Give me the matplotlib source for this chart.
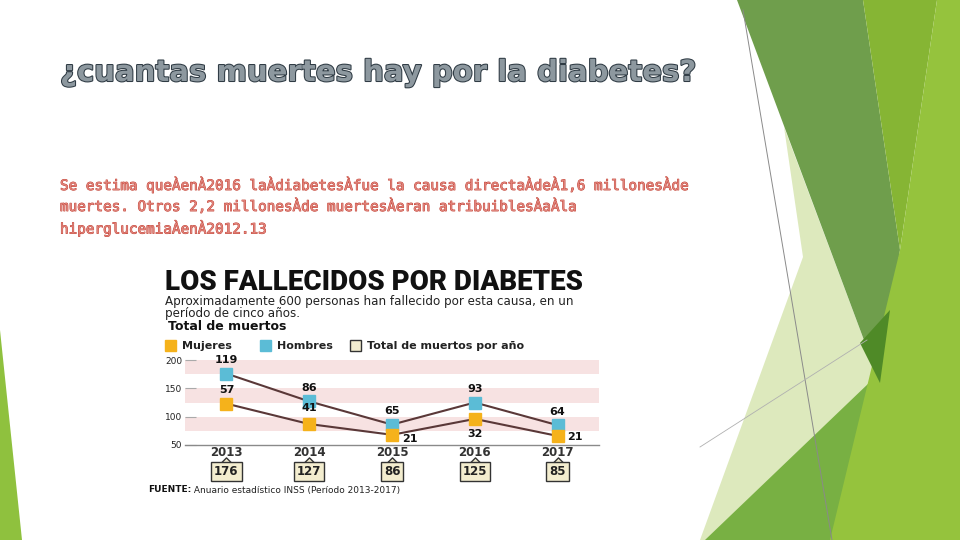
import matplotlib.pyplot as plt
import matplotlib.patheffects as pe
from matplotlib.patches import Polygon
from matplotlib.path import Path

# datos del grafico
anios = [2013, 2014, 2015, 2016, 2017]
mujeres = [57, 41, 21, 32, 21]
hombres = [119, 86, 65, 93, 64]
totales = [176, 127, 86, 125, 85]
# altura a la que aparecen los marcadores en el grafico original
mujeres_y = [123, 87, 68, 96, 66]
hombres_y = [176, 127, 86, 125, 85]
y_ticks = [50, 100, 150, 200]
franjas = [(75, 100), (125, 150), (175, 200)]

W, H = 960, 540
fig = plt.figure(figsize=(9.6, 5.4), dpi=100)
fig.patch.set_facecolor('white')

# fondo de la diapositiva (formas verdes)
bg = fig.add_axes([0, 0, 1, 1], zorder=0)
bg.set_xlim(0, W)
bg.set_ylim(H, 0)
bg.axis('off')

formas = [
    ([(784, 127), (803, 257), (700, 540), (960, 540), (880, 383)], '#dde9bd'),
    ([(705, 540), (917, 337), (960, 296), (960, 540)], '#78b043'),
    ([(737, 0), (863, 0), (900, 250), (880, 383)], '#6f9e4c'),
    ([(863, 0), (937, 0), (900, 250)], '#86b534'),
    ([(937, 0), (960, 0), (960, 540), (830, 540), (900, 250)], '#95c33d'),
    ([(860, 343), (890, 310), (880, 383)], '#4f8a27'),
    ([(0, 330), (22, 540), (0, 540)], '#8fc13e'),
]
for pts, col in formas:
    bg.add_patch(Polygon(pts, closed=True, facecolor=col, edgecolor='none'))
bg.plot([743, 832], [10, 540], color='#8a8a8a', lw=0.7)
bg.plot([700, 867], [447, 340], color='#b0b0b0', lw=0.6)

# titulo de la diapositiva
fig.text(60 / W, 1 - 73 / H, '¿cuantas muertes hay por la diabetes?',
         fontsize=21, fontweight='heavy', color='#8d989f', va='center', ha='left',
         path_effects=[pe.withStroke(linewidth=1.5, foreground='#2f3b44')])

texto = ('Se estima queÀenÀ2016 laÀdiabetesÀfue la causa directaÀdeÀ1,6 millonesÀde\n'
         'muertes. Otros 2,2 millonesÀde muertesÀeran atribuiblesÀaÀla\n'
         'hiperglucemiaÀenÀ2012.13')
fig.text(60 / W, 1 - 177 / H, texto, family='DejaVu Sans Mono', fontsize=10.3,
         color='#e0837b', va='top', ha='left', linespacing=1.5,
         path_effects=[pe.withStroke(linewidth=0.6, foreground='#c0392b')])

# cabecera de la infografia
fig.text(165 / W, 1 - 283 / H, 'LOS FALLECIDOS POR DIABETES', family='Roboto',
         fontsize=20, fontweight='black', color='#111111', va='center', ha='left')
fig.text(165 / W, 1 - 295 / H,
         'Aproximadamente 600 personas han fallecido por esta causa, en un\n'
         'período de cinco años.', fontsize=8.6, color='#222222', va='top', ha='left',
         linespacing=0.95)
fig.text(168 / W, 1 - 327 / H, 'Total de muertos', fontsize=9, fontweight='bold',
         color='#111111', va='center', ha='left')

# leyenda
leyenda = [(165, '#f5b21b', '#f5b21b', 'Mujeres'),
           (260, '#5bbcd6', '#5bbcd6', 'Hombres'),
           (350, '#f3edcf', '#333333', 'Total de muertos por año')]
for x0, fc, ec, lab in leyenda:
    bg.add_patch(plt.Rectangle((x0, 340), 11, 11, facecolor=fc, edgecolor=ec, lw=1))
    bg.text(x0 + 17, 346, lab, fontsize=8, fontweight='bold', color='#222222',
            va='center', ha='left')

# area del grafico
ax = fig.add_axes([185 / W, 1 - 445 / H, 414 / W, 85 / H], zorder=2)
ax.set_facecolor('none')
ax.set_xlim(2012.5, 2017.5)
ax.set_ylim(50, 200)
for a, b in franjas:
    ax.axhspan(a, b, color='#f7e2e2', zorder=0, lw=0)

ax.plot(anios, hombres_y, color='#5a3838', lw=1.5, zorder=2)
ax.plot(anios, mujeres_y, color='#5a3838', lw=1.5, zorder=2)
ax.plot(anios, hombres_y, ls='none', marker='s', ms=8, color='#5bbcd6', zorder=3)
ax.plot(anios, mujeres_y, ls='none', marker='s', ms=8, color='#f5b21b', zorder=3)

for x, y, v in zip(anios, hombres_y, hombres):
    ax.annotate(str(v), (x, y), xytext=(0, 6), textcoords='offset points',
                ha='center', va='bottom', fontsize=8, fontweight='bold',
                color='#111111', annotation_clip=False)

off_muj = [((0, 6), 'center', 'bottom'), ((0, 8), 'center', 'bottom'),
           ((7, -3), 'left', 'center'), ((0, -7), 'center', 'top'),
           ((7, -1), 'left', 'center')]
for (x, y, v), (off, ha, va) in zip(zip(anios, mujeres_y, mujeres), off_muj):
    ax.annotate(str(v), (x, y), xytext=off, textcoords='offset points',
                ha=ha, va=va, fontsize=8, fontweight='bold', color='#111111',
                annotation_clip=False)

ax.set_yticks(y_ticks)
ax.set_yticklabels([str(t) for t in y_ticks], fontsize=6.5, color='#222222')
ax.tick_params(axis='y', length=8, width=0.8, color='#aaaaaa', direction='in', pad=2)
ax.set_xticks(anios)
ax.set_xticklabels([str(a) for a in anios], fontsize=8.5, fontweight='bold',
                   color='#333333')
ax.tick_params(axis='x', length=0, pad=1)
for s in ['top', 'right', 'left']:
    ax.spines[s].set_visible(False)
ax.spines['bottom'].set_color('#8a8a8a')
ax.spines['bottom'].set_linewidth(1)

# cajas con el total por anio
flecha = Path([(-1, -0.4), (0, 0.6), (1, -0.4)])
tr = ax.get_xaxis_transform()
ax.plot(anios, [-0.2] * len(anios), ls='none', marker=flecha, ms=11,
        mfc='#f3edcf', mec='#333333', mew=1, transform=tr, clip_on=False, zorder=4)
for x, t in zip(anios, totales):
    ax.text(x, -0.24, str(t), transform=tr, ha='center', va='top', fontsize=8.5,
            fontweight='bold', color='#222222', zorder=5,
            bbox=dict(boxstyle='square,pad=0.25', fc='#f3edcf', ec='#333333', lw=1))

# fuente
f = fig.text(148 / W, 1 - 490 / H, 'FUENTE:', fontsize=6.5, fontweight='bold',
             color='#111111', va='center', ha='left')
plt.annotate(' Anuario estadístico INSS (Período 2013-2017)', xy=(1, 0.5),
             xycoords=f, ha='left', va='center', fontsize=6.5, color='#222222',
             annotation_clip=False)

fig.savefig('out.png', dpi=100)
